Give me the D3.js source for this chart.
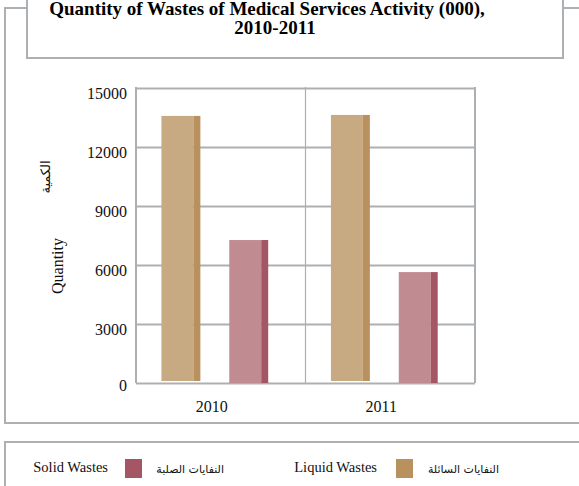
<!DOCTYPE html>
<html>
<head>
<meta charset="utf-8">
<script src="https://cdn.jsdelivr.net/npm/d3@7"></script>
<style>
  html, body { margin: 0; padding: 0; background: #fff; }
  svg { display: block; }
</style>
</head>
<body>
<svg id="chart" width="579" height="486"></svg>
<script>
const years = ["2010", "2011"];
const seriesKeys = ["liquid", "solid"];
const liquidWastes = [13580, 13630];
const solidWastes = [7270, 5640];
const yTicks = [0, 3000, 6000, 9000, 12000, 15000];
const titleLines = ["Quantity of Wastes of Medical Services Activity (000),", "2010-2011"];
const legendLabels = [
  { key: "solid", en: "Solid Wastes", ar: "النفايات الصلبة" },
  { key: "liquid", en: "Liquid Wastes", ar: "النفايات السائلة" }
];

const frontColor = { liquid: "#c8aa82", solid: "#c08c91" };
const sideColor = { liquid: "#b8915e", solid: "#a45664" };
const gray = "#adb0b3";
const serif = "'Liberation Serif', 'Times New Roman', serif";

const svg = d3.select("#chart");

// Outer frame
svg.append("rect").attr("x", 5).attr("y", 8).attr("width", 580).attr("height", 415)
  .attr("fill", "#fff").attr("stroke", gray).attr("stroke-width", 2);

// Title box
svg.append("rect").attr("x", 27).attr("y", -10).attr("width", 536).attr("height", 68)
  .attr("fill", "#fff").attr("stroke", gray).attr("stroke-width", 2);
svg.append("text").attr("x", 267).attr("y", 15).attr("text-anchor", "middle")
  .attr("font-family", serif).attr("font-weight", "bold").attr("font-size", 19)
  .text(titleLines[0]);
svg.append("text").attr("x", 275).attr("y", 34).attr("text-anchor", "middle")
  .attr("font-family", serif).attr("font-weight", "bold").attr("font-size", 19)
  .text(titleLines[1]);

// Scales
const plot = { left: 136, right: 475, top: 88, bottom: 383 };
const y = d3.scaleLinear().domain([0, 15000]).range([plot.bottom, plot.top]);
const x0 = d3.scaleBand().domain(years).range([plot.left, plot.right]).padding(0);
const bw = x0.bandwidth();
const x1 = d3.scaleBand().domain(seriesKeys).range([bw * 0.15, bw * 0.78]).paddingInner(0.426).paddingOuter(0);

// Gridlines
const grid = svg.append("g").attr("transform", `translate(${plot.left},0)`)
  .call(d3.axisLeft(y).tickValues(yTicks).tickSize(-(plot.right - plot.left)).tickFormat(""));
grid.select(".domain").remove();
grid.selectAll("line").attr("stroke", gray).attr("stroke-width", 2);

// Vertical lines: left, category divider, right
const vlines = [plot.left, x0("2011"), plot.right];
svg.append("g").selectAll("line").data(vlines).join("line")
  .attr("x1", d => d).attr("x2", d => d)
  .attr("y1", plot.top - 1).attr("y2", plot.bottom)
  .attr("stroke", gray).attr("stroke-width", d => d === x0("2011") ? 1.2 : 2);

// Y labels
const yAxis = svg.append("g").attr("transform", `translate(${plot.left - 9},0)`)
  .call(d3.axisLeft(y).tickValues(yTicks).tickSize(0).tickFormat(d3.format("d")));
yAxis.select(".domain").remove();
yAxis.selectAll("text").attr("font-family", serif).attr("font-size", 16).attr("fill", "#111")
  .attr("dy", d => d === 0 ? "0.45em" : "0.65em").attr("x", 0);

// X labels
svg.append("g").selectAll("text").data(years).join("text")
  .attr("x", d => x0(d) + bw / 2 - 9).attr("y", 412)
  .attr("text-anchor", "middle").attr("font-family", serif).attr("font-size", 16).attr("fill", "#111")
  .text(d => d);

// Bars
const data = years.map((yr, i) => ({ year: yr, liquid: liquidWastes[i], solid: solidWastes[i] }));
const sideFrac = 7 / 39;
const groups = svg.append("g").selectAll("g").data(data).join("g")
  .attr("transform", d => `translate(${x0(d.year)},0)`);
const bars = groups.selectAll("g").data(d => seriesKeys.map(k => ({ key: k, value: d[k] }))).join("g");
bars.append("rect")
  .attr("x", d => x1(d.key)).attr("y", d => y(d.value))
  .attr("width", x1.bandwidth() * (1 - sideFrac))
  .attr("height", d => y(0) - y(d.value) - (d.key === "liquid" ? 2 : 0))
  .attr("fill", d => frontColor[d.key]);
bars.append("rect")
  .attr("x", d => x1(d.key) + x1.bandwidth() * (1 - sideFrac)).attr("y", d => y(d.value))
  .attr("width", x1.bandwidth() * sideFrac)
  .attr("height", d => y(0) - y(d.value) - (d.key === "liquid" ? 2 : 0))
  .attr("fill", d => sideColor[d.key]);

// Y axis titles
svg.append("text").attr("transform", "translate(63,266) rotate(-90)")
  .attr("text-anchor", "middle").attr("font-family", serif).attr("font-size", 16).attr("fill", "#111")
  .text("Quantity");
svg.append("text").attr("transform", "translate(50,177) rotate(-90)")
  .attr("text-anchor", "middle").attr("font-family", "'DejaVu Sans', sans-serif").attr("font-size", 13).attr("fill", "#111")
  .attr("direction", "rtl")
  .text("الكمية");

// Legend box
svg.append("rect").attr("x", 5).attr("y", 442).attr("width", 590).attr("height", 60)
  .attr("fill", "#fff").attr("stroke", gray).attr("stroke-width", 2);

const legendPos = { solid: { en: 108, sw: 125, ar: 224 }, liquid: { en: 377, sw: 396, ar: 499 } };
const leg = svg.append("g").selectAll("g").data(legendLabels).join("g");
leg.append("text").attr("x", d => legendPos[d.key].en).attr("y", 472)
  .attr("text-anchor", "end").attr("font-family", serif).attr("font-size", 14.5).attr("fill", "#111")
  .text(d => d.en);
leg.append("rect").attr("x", d => legendPos[d.key].sw).attr("y", 459)
  .attr("width", 17).attr("height", 19).attr("fill", d => sideColor[d.key]);
leg.append("text").attr("x", d => legendPos[d.key].ar).attr("y", 473)
  .attr("text-anchor", "start").attr("direction", "rtl")
  .attr("font-family", "'DejaVu Sans', sans-serif").attr("font-size", 11).attr("fill", "#111")
  .text(d => d.ar);
</script>
</body>
</html>
